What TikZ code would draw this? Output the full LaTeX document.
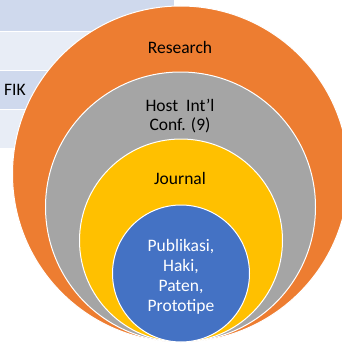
\documentclass[tikz,border=0pt]{standalone}
\usepackage{fontspec}
\setmainfont{Carlito}
\definecolor{banddark}{RGB}{207, 217, 237}
\definecolor{bandlight}{RGB}{232, 237, 246}
\definecolor{ringorange}{RGB}{237, 125, 49}
\definecolor{ringgray}{RGB}{165, 165, 165}
\definecolor{ringyellow}{RGB}{255, 192, 0}
\definecolor{ringblue}{RGB}{68, 114, 196}
\usetikzlibrary{positioning}

\begin{document}
\begin{tikzpicture}[x=1pt, y=-1pt,
  band/.style={minimum width=174pt, minimum height=37.5pt, inner sep=0pt, anchor=north west},
  ring/.style={circle, draw=white, line width=1pt, inner sep=0pt},
  label/.style={font=\fontsize{17.5}{19.8}\selectfont, align=center, inner sep=0pt}
]
  \useasboundingbox (0,0) rectangle (342,345);

  % Bands
  \node[band, fill=banddark] (row1) at (0, -7) {};
  \node[band, fill=bandlight] (row2) at (0, 32) {};
  \node[band, fill=banddark] (row3) at (0, 71) {};
  \node[band, fill=bandlight] (row4) at (0, 110) {};
  \node[label, anchor=west] (fik) at (4, 89.5) {FIK};

  % Rings
  \node[ring, fill=ringorange, minimum size=336pt] (research) at (180.5, 174) {};
  \node[ring, fill=ringgray, minimum size=270pt] (host) at (180.5, 207) {};
  \node[ring, fill=ringyellow, minimum size=203pt] (journal) at (181, 240.5) {};
  \node[ring, fill=ringblue, minimum size=137pt] (publikasi) at (181, 273.5) {};

  % Labels
  \node[label] (researchtext) at (180, 47) {Research};
  \node[label] (hosttext) at (180, 116) {Host\ \ Int’l\\Conf. (9)};
  \node[label] (journaltext) at (180, 178) {Journal};
  \node[label, text=white] (publikasitext) at (181, 277) {Publikasi,\\Haki,\\Paten,\\Prototipe};
\end{tikzpicture}
\end{document}
